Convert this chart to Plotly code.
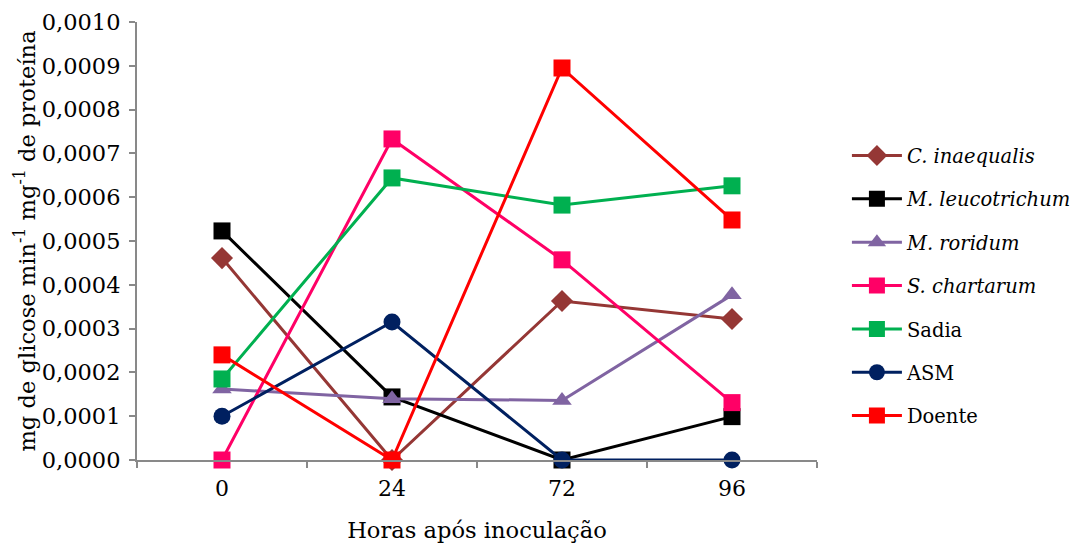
import plotly.graph_objects as go

hours = ["0", "24", "72", "96"]
c_inaequalis = [0.000461, 0.0, 0.000363, 0.000322]
m_leucotrichum = [0.000523, 0.000144, 0.0, 0.000099]
m_roridum = [0.000162, 0.000140, 0.000136, 0.000377]
s_chartarum = [0.0, 0.000733, 0.000457, 0.000131]
sadia = [0.000185, 0.000644, 0.000582, 0.000626]
asm = [0.000100, 0.000315, 0.0, 0.0]
doente = [0.000240, 0.0, 0.000895, 0.000548]

series = [
    ("<i>C. inaequalis</i>", c_inaequalis, "#953735", "diamond", 17),
    ("<i>M. leucotrichum</i>", m_leucotrichum, "#000000", "square", 17),
    ("<i>M. roridum</i>", m_roridum, "#8064A2", "triangle-up", 17),
    ("<i>S. chartarum</i>", s_chartarum, "#FF0066", "square", 17),
    ("Sadia", sadia, "#00B050", "square", 17),
    ("ASM", asm, "#002060", "circle", 17),
    ("Doente", doente, "#FF0000", "square", 17),
]

SERIF = "DejaVu Serif"

fig = go.Figure()
for i, (name, vals, color, sym, size) in enumerate(series):
    fig.add_trace(go.Scatter(
        x=hours, y=vals, name=name, mode="lines+markers",
        line=dict(color=color, width=3),
        marker=dict(symbol=sym, size=size, color=color),
        cliponaxis=False, legendgroup=f"g{i}",
    ))

fig.update_layout(
    width=1085, height=547,
    margin=dict(l=129, r=276, t=14, b=95, autoexpand=False),
    plot_bgcolor="white", paper_bgcolor="white",
    separators=",.",
    font=dict(family=SERIF, size=20, color="black"),
    showlegend=True,
    legend=dict(x=1.044, y=0.739, xanchor="left", yanchor="top",
                font=dict(family=SERIF, size=19.5), tracegroupgap=15, itemwidth=50,
                bgcolor="rgba(0,0,0,0)"),
    xaxis=dict(type="category", range=[-0.5, 3.5], showline=True,
               linecolor="#898989", linewidth=2, ticks="outside",
               tickson="boundaries", ticklen=6, tickcolor="#898989",
               tickwidth=1.5, showgrid=False, zeroline=False,
               ticklabelstandoff=8,
               title=dict(text="Horas após inoculação", font=dict(family=SERIF, size=22.6), standoff=22),
               tickfont=dict(family=SERIF, size=22)),
    yaxis=dict(range=[0, 0.001], dtick=0.0001, tickformat=".4f",
               showline=True, linecolor="#898989", linewidth=2,
               ticks="outside", ticklen=6, tickcolor="#898989", tickwidth=1.5,
               showgrid=False, zeroline=False, ticklabelstandoff=4,
               title=dict(text="mg de glicose min<sup>-1</sup> mg<sup>-1</sup> de proteína",
                          font=dict(family=SERIF, size=22.6), standoff=0),
               tickfont=dict(family=SERIF, size=22.5)),
)

fig.write_html("out.html")
